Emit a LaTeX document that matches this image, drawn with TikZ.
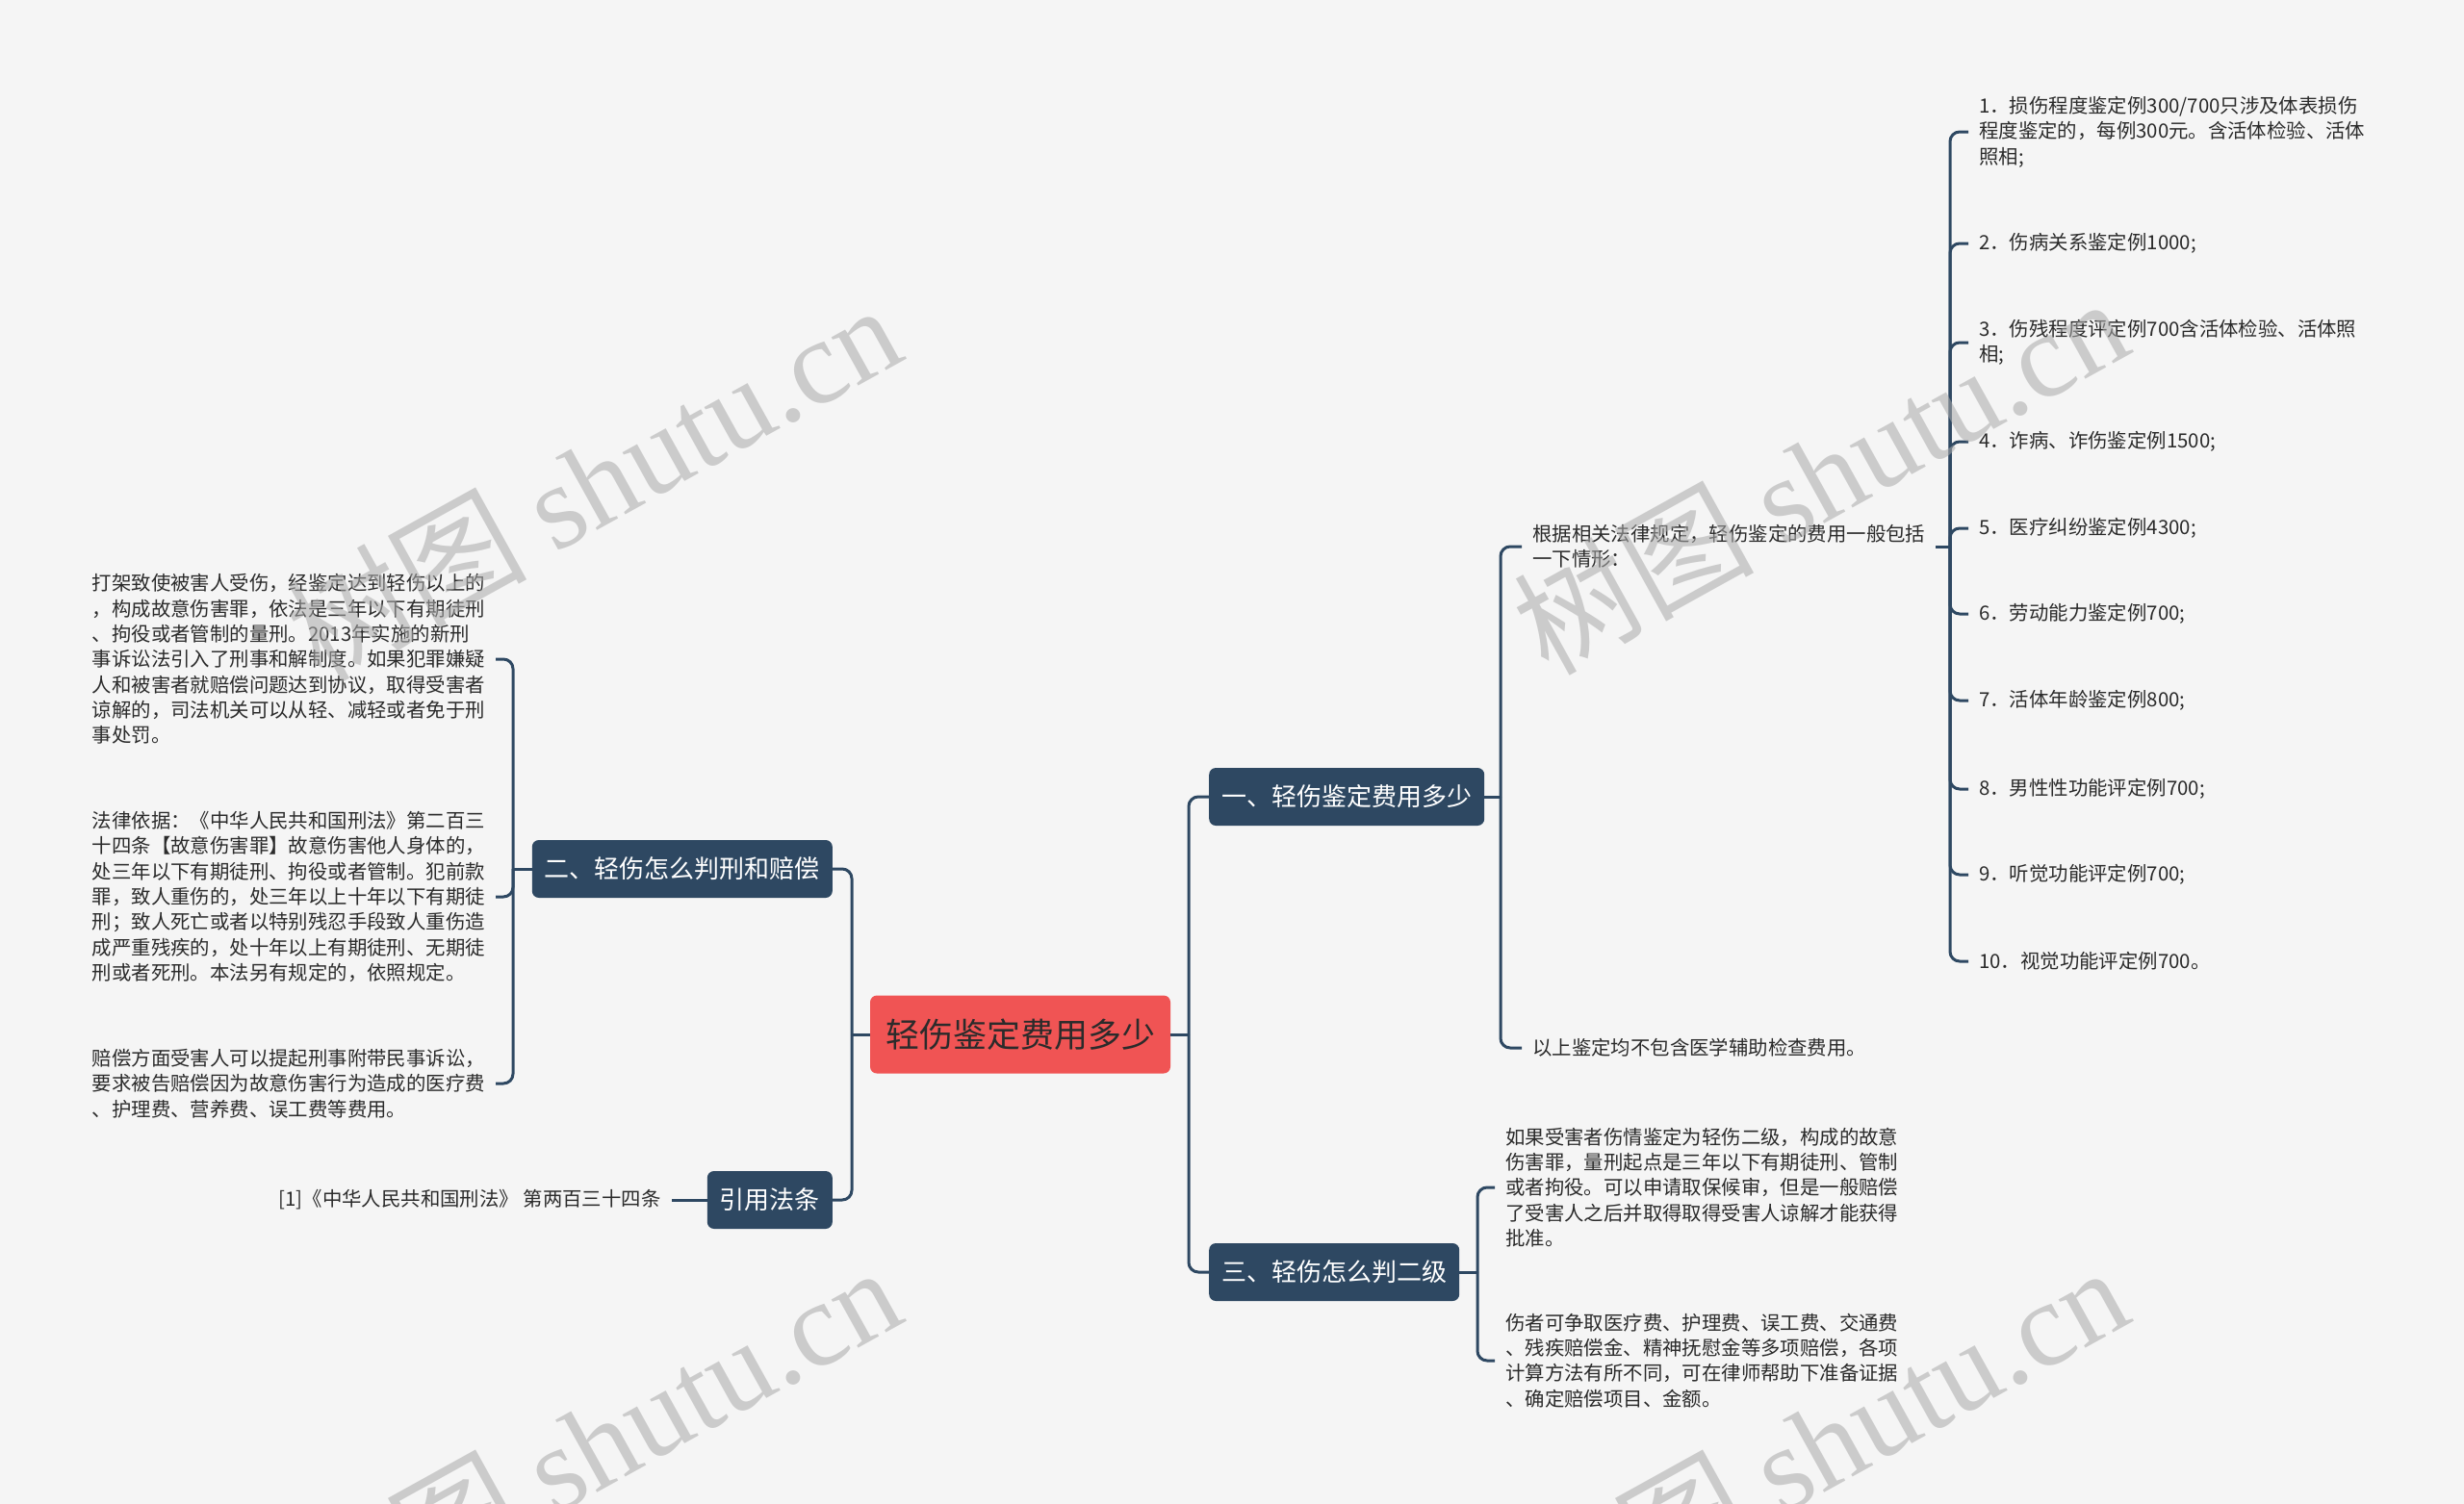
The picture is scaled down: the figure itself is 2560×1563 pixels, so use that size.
\documentclass[tikz,border=0pt]{standalone}
\usepackage{fontspec}
\setmainfont{Noto Sans CJK SC}
\newfontfamily\wmfont{Liberation Serif}
\usetikzlibrary{positioning}
\definecolor{bg}{HTML}{F5F5F5}
\definecolor{navy}{HTML}{2E4862}
\definecolor{rootred}{HTML}{F05454}
\definecolor{ink}{HTML}{2B2B2B}
\definecolor{wm}{RGB}{170,170,170}
\tikzset{
    every picture/.style={x=1pt,y=-1pt},
    link/.style={draw=navy, line width=3pt, rounded corners=10pt},
    rootbox/.style={fill=rootred, text=ink, rounded corners=7pt,
          minimum width=312pt, minimum height=81pt,
          font=\fontsize{35}{42}\selectfont},
    topic/.style={fill=navy, text=white, rounded corners=7pt,
          inner xsep=13pt, minimum height=60pt,
          font=\fontsize{26}{31}\selectfont},
    leaf/.style={text=ink, align=left, inner xsep=11pt, inner ysep=0pt,
          font=\fontsize{20.4}{26.3}\selectfont},
    watermark/.style={rotate=29, text=wm, text opacity=0.55, inner sep=0pt,
          font=\fontsize{125}{125}\selectfont},
}

\begin{document}
\begin{tikzpicture}
    \fill[bg] (0,0) rectangle (2560,1563);
    \useasboundingbox (0,0) rectangle (2560,1563);

    % centre and main topics
    \node[rootbox] (root) at (1060,1075) {轻伤鉴定费用多少};
    \node[topic, anchor=west] (t1) at (1256,828) {一、轻伤鉴定费用多少};
    \node[topic, anchor=west] (t3) at (1256,1322) {三、轻伤怎么判二级};
    \node[topic, anchor=east] (t2) at (865,903) {二、轻伤怎么判刑和赔偿};
    \node[topic, anchor=east] (tref) at (865,1247) {引用法条};

    \coordinate (rj) at (1235,1075);
    \coordinate (lj) at (885,1075);
    \coordinate (t1j) at (1559,828);
    \coordinate (t2j) at (533,903);
    \coordinate (t3j) at (1535,1322);
    \coordinate (gj) at (2026,568);

    % branch one
    \node[leaf, anchor=west] (g) at (1581,568)
        {根据相关法律规定，轻伤鉴定的费用一般包括\\一下情形：};
    \node[leaf, anchor=west] (yi) at (1581,1089) {以上鉴定均不包含医学辅助检查费用。};
    \foreach \y/\txt [count=\i] in {
        137/{1．损伤程度鉴定例300/700只涉及体表损伤\\程度鉴定的，每例300元。含活体检验、活体\\照相;},
        253/{2．伤病关系鉴定例1000;},
        356/{3．伤残程度评定例700含活体检验、活体照\\相;},
        459/{4．诈病、诈伤鉴定例1500;},
        549/{5．医疗纠纷鉴定例4300;},
        638/{6．劳动能力鉴定例700;},
        728/{7．活体年龄鉴定例800;},
        820/{8．男性性功能评定例700;},
        909/{9．听觉功能评定例700;},
        999/{10．视觉功能评定例700。}}
        \node[leaf, anchor=west] (c\i) at (2045,\y) {\txt};

    % branch three
    \node[leaf, anchor=west] (s1) at (1553,1234)
        {如果受害者伤情鉴定为轻伤二级，构成的故意\\伤害罪，量刑起点是三年以下有期徒刑、管制\\或者拘役。可以申请取保候审，但是一般赔偿\\了受害人之后并取得取得受害人谅解才能获得\\批准。};
    \node[leaf, anchor=west] (s2) at (1553,1414)
        {伤者可争取医疗费、护理费、误工费、交通费\\、残疾赔偿金、精神抚慰金等多项赔偿，各项\\计算方法有所不同，可在律师帮助下准备证据\\、确定赔偿项目、金额。};

    % branch two
    \node[leaf, anchor=east] (a1) at (515,685)
        {打架致使被害人受伤，经鉴定达到轻伤以上的\\，构成故意伤害罪，依法是三年以下有期徒刑\\、拘役或者管制的量刑。2013年实施的新刑\\事诉讼法引入了刑事和解制度。如果犯罪嫌疑\\人和被害者就赔偿问题达到协议，取得受害者\\谅解的，司法机关可以从轻、减轻或者免于刑\\事处罚。};
    \node[leaf, anchor=east] (a2) at (515,932)
        {法律依据：《中华人民共和国刑法》第二百三\\十四条【故意伤害罪】故意伤害他人身体的，\\处三年以下有期徒刑、拘役或者管制。犯前款\\罪，致人重伤的，处三年以上十年以下有期徒\\刑；致人死亡或者以特别残忍手段致人重伤造\\成严重残疾的，处十年以上有期徒刑、无期徒\\刑或者死刑。本法另有规定的，依照规定。};
    \node[leaf, anchor=east] (a3) at (515,1126)
        {赔偿方面受害人可以提起刑事附带民事诉讼，\\要求被告赔偿因为故意伤害行为造成的医疗费\\、护理费、营养费、误工费等费用。};
    \node[leaf, left=37pt of tref] (ref) {[1]《中华人民共和国刑法》 第两百三十四条};

    % connectors
    \draw[link] (root.east) -- (rj);
    \draw[link] (rj) |- (t1.west);
    \draw[link] (rj) |- (t3.west);
    \draw[link] (root.west) -- (lj);
    \draw[link] (lj) |- (t2.east);
    \draw[link] (lj) |- (tref.east);
    \draw[link] (t1.east) -- (t1j);
    \draw[link] (t1j) |- (g.west);
    \draw[link] (t1j) |- (yi.west);
    \draw[link] (g.east) -- (gj);
    \foreach \i in {1,...,10}
        \draw[link] (gj) |- (c\i.west);
    \draw[link] (t3.east) -- (t3j);
    \draw[link] (t3j) |- (s1.west);
    \draw[link] (t3j) |- (s2.west);
    \draw[link] (t2.west) -- (t2j);
    \foreach \n in {a1,a2,a3}
        \draw[link] (t2j) |- (\n.east);
    \draw[link] (tref.west) -- (ref.east);

    % watermark
    \foreach \x/\y [count=\k] in {944/372, 2219/365, 944/1372, 2219/1372}
        \node[watermark, anchor=base east] (wm\k) at (\x,\y) {树图 {\wmfont shutu.cn}};
\end{tikzpicture}
\end{document}
